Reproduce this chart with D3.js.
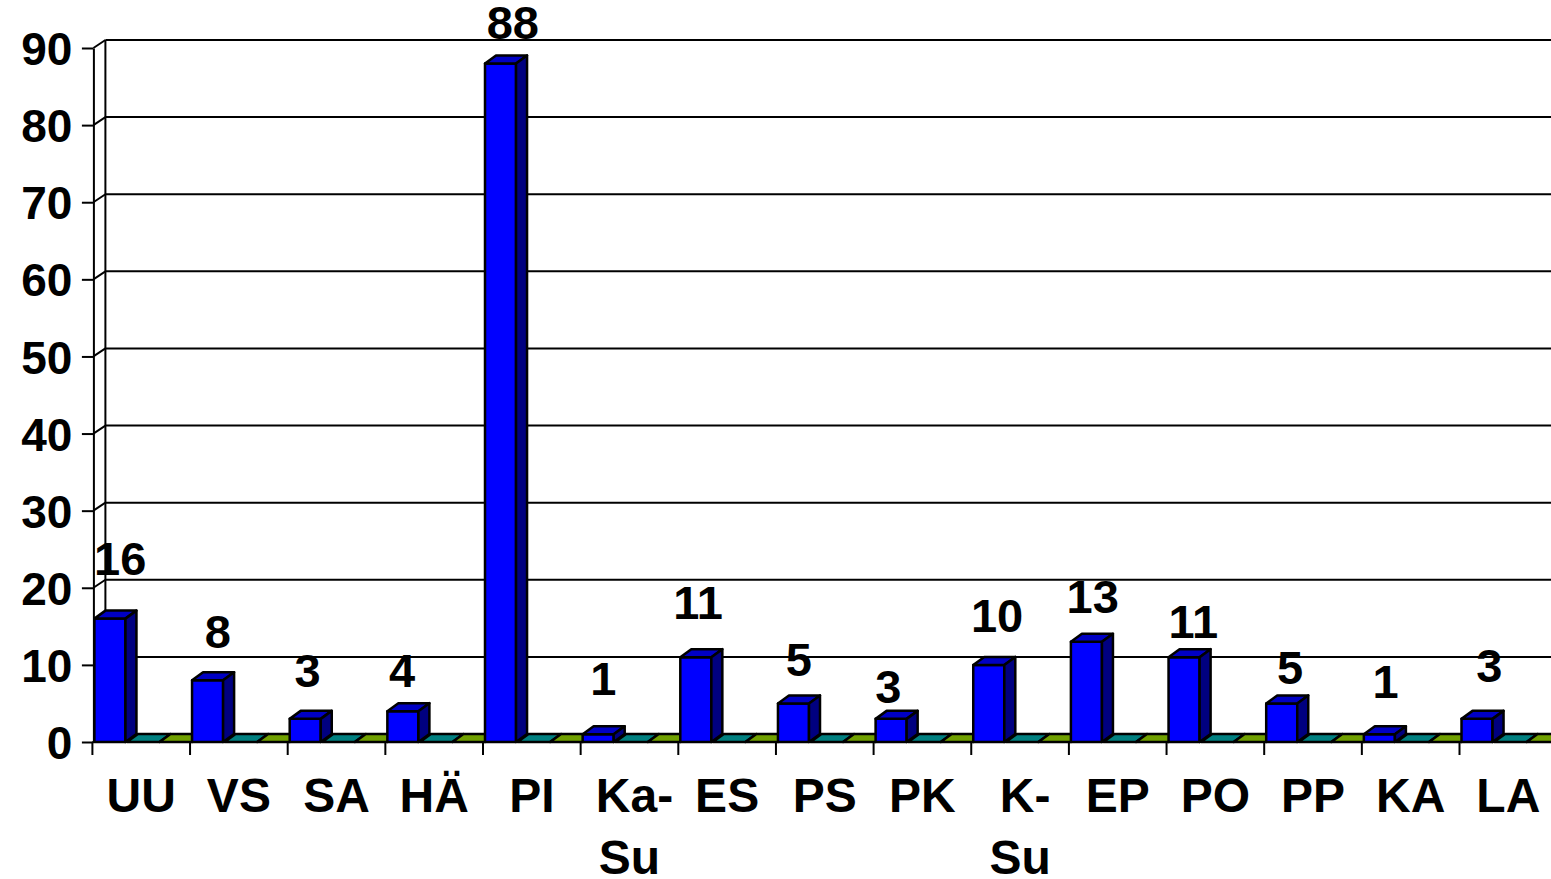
<!DOCTYPE html>
<html>
<head>
<meta charset="utf-8">
<script src="https://cdn.jsdelivr.net/npm/d3@7/dist/d3.min.js"></script>
<style>
  html, body { margin: 0; padding: 0; background: #fff; }
  svg { display: block; }
  text { font-family: "Liberation Sans", Arial, sans-serif; font-weight: bold; fill: #000; }
</style>
</head>
<body>
<svg id="chart" width="1551" height="879"></svg>
<script>
// ---- data ----
const categories = ["UU", "VS", "SA", "HÄ", "PI", "Ka-Su", "ES", "PS", "PK", "K-Su", "EP", "PO", "PP", "KA", "LA"];
const seriesNames = ["A", "B", "C"];
const seriesA = [16, 8, 3, 4, 88, 1, 11, 5, 3, 10, 13, 11, 5, 1, 3];
const seriesB = [0, 0, 0, 0, 0, 0, 0, 0, 0, 0, 0, 0, 0, 0, 0];
const seriesC = [0, 0, 0, 0, 0, 0, 0, 0, 0, 0, 0, 0, 0, 0, 0];
const yTicks = [0, 10, 20, 30, 40, 50, 60, 70, 80, 90];

// ---- layout (label nudges in px, relative to bar's top-centre) ----
const labelNudgeX = [4, 4, -4, -7, 6, -1, -4, -1, -9, 2, 0, 3, 2, 0, 6];
const labelNudgeY = [-44, -32, -32, -24, -24, -39, -38, -27, -16, -33, -29, -19, -19, -36, -37];

const colors = {
  A: { front: "#0000FF", top: "#0000C4", side: "#000080" },
  B: { front: "#008080" },
  C: { front: "#70A000" }
};

const W = 1551, H = 879;
const x0 = 92.4, band = 97.65;
const floorY = 742, topY = 48;
const wallDX = 12, wallDY = -8;
const barDX = 11, barDY = -8;

const svg = d3.select("#chart");

const x = d3.scaleBand().domain(categories).range([x0, x0 + band * categories.length]).padding(0);
const xs = d3.scaleBand().domain(seriesNames).range([2, band + 2]).padding(0);
const y = d3.scaleLinear().domain([0, 90]).range([floorY, topY]);

const stroke = "#000";

// back-wall gridlines
svg.append("g").selectAll("line").data(yTicks).join("line")
  .attr("x1", x0 + 1 + wallDX).attr("x2", W + 20)
  .attr("y1", d => y(d) + wallDY).attr("y2", d => y(d) + wallDY)
  .attr("stroke", stroke).attr("stroke-width", 2);

// side-wall diagonals
svg.append("g").selectAll("line").data(yTicks).join("line")
  .attr("x1", x0 + 1).attr("x2", x0 + 1 + wallDX)
  .attr("y1", d => y(d)).attr("y2", d => y(d) + wallDY)
  .attr("stroke", stroke).attr("stroke-width", 2);

// back wall left edge
svg.append("line")
  .attr("x1", x0 + 1 + wallDX).attr("x2", x0 + 1 + wallDX)
  .attr("y1", y(90) + wallDY).attr("y2", y(0) + wallDY)
  .attr("stroke", stroke).attr("stroke-width", 2);

// y axis (front edge)
const yAxis = d3.axisLeft(y).tickValues(yTicks).tickSize(11.5).tickSizeOuter(0).tickPadding(10);
const gy = svg.append("g").attr("transform", `translate(${x0 + 1},0)`).call(yAxis);
gy.selectAll("path").attr("stroke", stroke).attr("stroke-width", 2);
gy.selectAll("line").attr("stroke", stroke).attr("stroke-width", 2);
gy.selectAll("text").attr("font-size", 46).attr("font-weight", "bold")
  .attr("font-family", "'Liberation Sans', Arial, sans-serif").attr("fill", "#000")
  .attr("x", -21).attr("dy", "0.36em");

// floor front edge
svg.append("line")
  .attr("x1", x0).attr("x2", W + 20).attr("y1", floorY).attr("y2", floorY)
  .attr("stroke", stroke).attr("stroke-width", 2);

// category boundary ticks
const bounds = categories.map(c => x(c)).concat([x0 + band * categories.length]);
svg.append("g").selectAll("line").data(bounds).join("line")
  .attr("x1", d => d).attr("x2", d => d).attr("y1", floorY).attr("y2", floorY + 13)
  .attr("stroke", stroke).attr("stroke-width", 2);

// bars
const rows = categories.map((c, i) => ({ c, i, vals: { A: seriesA[i], B: seriesB[i], C: seriesC[i] } }));
const gb = svg.append("g");
rows.forEach(r => {
  seriesNames.forEach(s => {
    const v = r.vals[s];
    const left = x(r.c) + xs(s);
    const right = left + xs.bandwidth();
    const yt = y(v);
    const col = colors[s];
    if (v > 0) {
      const wFace = right - left - 1.5;
      const rr = left + wFace;
      // front
      gb.append("rect").attr("x", left).attr("y", yt).attr("width", wFace).attr("height", floorY - yt)
        .attr("fill", col.front).attr("stroke", stroke).attr("stroke-width", 2.5).attr("stroke-linejoin", "round");
      // top
      gb.append("path").attr("d", `M${left},${yt}L${left + barDX},${yt + barDY}L${rr + barDX},${yt + barDY}L${rr},${yt}Z`)
        .attr("fill", col.top).attr("stroke", stroke).attr("stroke-width", 2.5).attr("stroke-linejoin", "round");
      // side
      gb.append("path").attr("d", `M${rr},${yt}L${rr + barDX},${yt + barDY}L${rr + barDX},${floorY + barDY}L${rr},${floorY}Z`)
        .attr("fill", col.side).attr("stroke", stroke).attr("stroke-width", 2.5).attr("stroke-linejoin", "round");
    } else {
      gb.append("path").attr("d", `M${left},${yt}L${left + barDX},${yt + barDY}L${right + barDX},${yt + barDY}L${right},${yt}Z`)
        .attr("fill", col.front).attr("stroke", stroke).attr("stroke-width", 2.5).attr("stroke-linejoin", "round");
    }
  });
});

// value labels
svg.append("g").selectAll("text").data(rows).join("text")
  .attr("x", (d, i) => x(d.c) + xs("A") + xs.bandwidth() / 2 + barDX / 2 + labelNudgeX[i])
  .attr("y", (d, i) => y(d.vals.A) + labelNudgeY[i])
  .attr("text-anchor", "middle").attr("font-size", 47)
  .text(d => d.vals.A);

// category labels (wrap after hyphen)
const gc = svg.append("g");
rows.forEach(r => {
  const parts = r.c.includes("-") ? [r.c.slice(0, r.c.indexOf("-") + 1), r.c.slice(r.c.indexOf("-") + 1)] : [r.c];
  const t = gc.append("text").attr("text-anchor", "middle").attr("font-size", 48)
    .attr("x", x(r.c) + band / 2).attr("y", 812);
  parts.forEach((p, k) => {
    t.append("tspan").attr("x", x(r.c) + band / 2 + (k === 0 && parts.length > 1 ? 5 : 0))
      .attr("dy", k === 0 ? 0 : 62).text(p);
  });
});
</script>
</body>
</html>
